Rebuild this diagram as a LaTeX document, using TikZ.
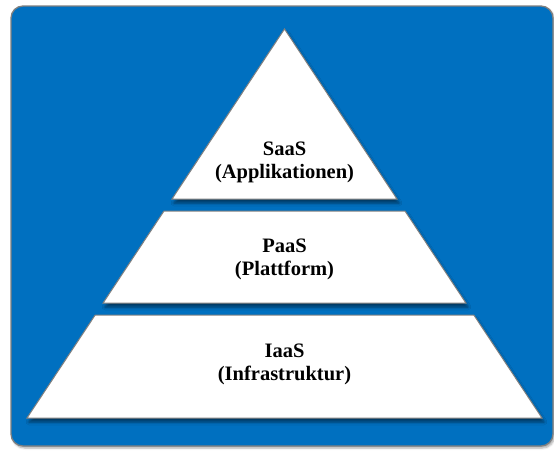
\documentclass[tikz,border=0pt]{standalone}
\usepackage{fontspec}
\setmainfont{Liberation Serif}
\usetikzlibrary{shadows.blur}
\definecolor{bgblue}{HTML}{0070C0}
\definecolor{edgegrey}{HTML}{808080}
\begin{document}
\begin{tikzpicture}[x=1pt,y=-1pt,
  bgbox/.style={fill=bgblue, draw=edgegrey, line width=1.3pt, rounded corners=12pt,
    blur shadow={shadow xshift=1.5pt, shadow yshift=-2pt, shadow blur radius=2pt, shadow opacity=35}},
  piece/.style={fill=white, draw=edgegrey, line width=1pt, line join=miter,
    blur shadow={shadow xshift=2pt, shadow yshift=-4pt, shadow blur radius=3pt, shadow opacity=50}},
  lbl/.style={font=\bfseries\fontsize{20.5}{23}\selectfont, align=center, inner sep=0pt}]
\useasboundingbox (0,0) rectangle (554,450);
\path[bgbox] (11,6) rectangle (553,446);
% pyramid pieces
\path[piece] (284.5,29) -- (397,199) -- (172,199) -- cycle;
\path[piece] (164,211) -- (405,211) -- (465.9,303) -- (103.1,303) -- cycle;
\path[piece] (95.2,315) -- (473.8,315) -- (542,418) -- (27,418) -- cycle;
% labels
\node[lbl] (saas) at (284.5,162) {SaaS\\(Applikationen)};
\node[lbl] (paas) at (284.5,259) {PaaS\\(Plattform)};
\node[lbl] (iaas) at (284.5,364) {IaaS\\(Infrastruktur)};
\end{tikzpicture}
\end{document}
